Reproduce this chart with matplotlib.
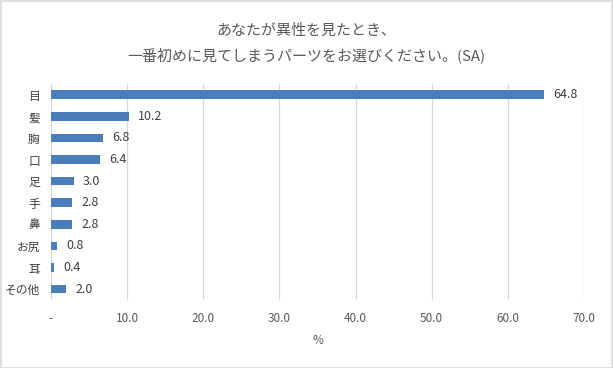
import matplotlib
matplotlib.use("Agg")
import matplotlib.pyplot as plt
from matplotlib.patches import Rectangle

plt.rcParams['font.family'] = ['Noto Sans CJK JP', 'DejaVu Sans']

categories = ["目", "髪", "胸", "口", "足", "手", "鼻", "お尻", "耳", "その他"]
values = [64.8, 10.2, 6.8, 6.4, 3.0, 2.8, 2.8, 0.8, 0.4, 2.0]
xticks = [0, 10, 20, 30, 40, 50, 60, 70]
xticklabels = ["-", "10.0", "20.0", "30.0", "40.0", "50.0", "60.0", "70.0"]
title = "あなたが異性を見たとき、\n一番初めに見てしまうパーツをお選びください。(SA)"

fig = plt.figure(figsize=(6.13, 3.68), dpi=100)
fig.patches.append(Rectangle((0.001, 0.001), 0.997, 0.996, transform=fig.transFigure,
                             fill=False, edgecolor="#d9d9d9", linewidth=1.2))
ax = fig.add_axes([0.0832, 0.185, 0.8695, 0.587])

y = list(range(len(categories)))
ax.barh(y, values, height=0.4, color="#4a7ebb", zorder=3)
for yi, v in zip(y, values):
    ax.text(v + 1.2, yi, f"{v:.1f}", va="center", ha="left", fontsize=9, color="#404040")

ax.set_ylim(len(categories) - 0.5, -0.5)
ax.set_xlim(0, 70)
ax.set_yticks(y)
ax.set_yticklabels(categories, fontsize=8.5, color="#404040")
ax.set_xticks(xticks)
ax.set_xticklabels(xticklabels, fontsize=8.5, color="#595959")
ax.tick_params(axis="both", length=0, pad=8)
ax.tick_params(axis="x", pad=9)
ax.grid(axis="x", color="#d9d9d9", linewidth=0.9, zorder=0)
for s in ax.spines.values():
    s.set_visible(False)
ax.set_xlabel("%", fontsize=8.5, color="#595959", labelpad=6)

fig.text(0.5, 0.883, title, ha="center", va="center", fontsize=10.8, color="#595959",
         linespacing=1.75)

fig.savefig("out.png", dpi=100, facecolor="white")
